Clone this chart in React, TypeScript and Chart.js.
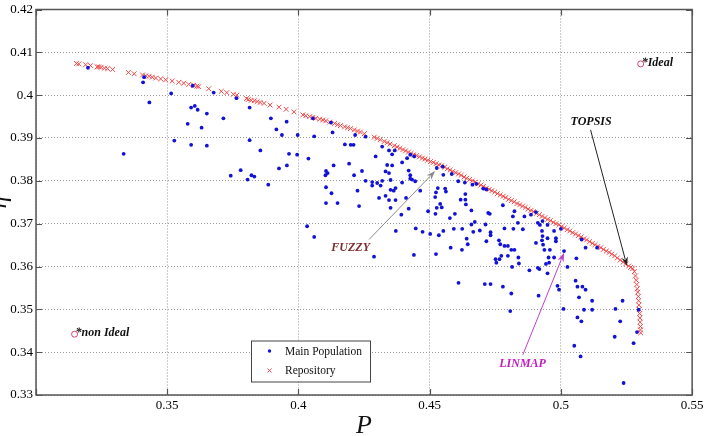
import React, { useEffect, useRef } from "react";
import { Chart, registerables } from "chart.js";

Chart.register(...registerables);

// Axis ticks
const X_TICKS = [0.3, 0.35, 0.4, 0.45, 0.5, 0.55];
const X_TICK_LABELS = ["", "0.35", "0.4", "0.45", "0.5", "0.55"];
const Y_TICKS = [0.33, 0.34, 0.35, 0.36, 0.37, 0.38, 0.39, 0.4, 0.41, 0.42];
const Y_TICK_LABELS = ["0.33", "0.34", "0.35", "0.36", "0.37", "0.38", "0.39", "0.4", "0.41", "0.42"];

// Main population: [P, eta]
const mainPopulation: [number, number][] = [
  [0.3198, 0.4064], [0.3412, 0.4042], [0.3408, 0.403], [0.3432, 0.3983], [0.3515, 0.4004],
  [0.3597, 0.4022], [0.3677, 0.4006], [0.3764, 0.3993], [0.3591, 0.3971], [0.3605, 0.3975],
  [0.3616, 0.3966], [0.3651, 0.3957], [0.3714, 0.3946], [0.3578, 0.3933], [0.3631, 0.3924],
  [0.3527, 0.3894], [0.3591, 0.3884], [0.3651, 0.3882], [0.3334, 0.3863], [0.3742, 0.3812],
  [0.378, 0.3825], [0.3806, 0.3803], [0.3814, 0.3971], [0.3895, 0.3946], [0.3955, 0.3938],
  [0.3916, 0.392], [0.3937, 0.3907], [0.3814, 0.3895], [0.3997, 0.3907], [0.406, 0.3904],
  [0.413, 0.3913], [0.4055, 0.3946], [0.4177, 0.3885], [0.4199, 0.3884], [0.421, 0.3884],
  [0.4216, 0.3907], [0.4256, 0.3903], [0.3855, 0.3871], [0.4319, 0.388], [0.4345, 0.3871],
  [0.4367, 0.3871], [0.4124, 0.3936], [0.4294, 0.3857], [0.4357, 0.3862], [0.4134, 0.3836],
  [0.4193, 0.384], [0.4242, 0.3823], [0.4338, 0.3837], [0.4357, 0.3836], [0.4395, 0.3843],
  [0.4414, 0.3853], [0.4426, 0.3861], [0.4441, 0.3857], [0.4111, 0.3818], [0.4212, 0.3813],
  [0.4256, 0.38], [0.4281, 0.3797], [0.4281, 0.3789], [0.43, 0.3795], [0.4313, 0.3789],
  [0.4319, 0.38], [0.4351, 0.3802], [0.4332, 0.3822], [0.4345, 0.3818], [0.4426, 0.3813],
  [0.4426, 0.3805], [0.4433, 0.3803], [0.442, 0.3824], [0.4395, 0.3796], [0.4445, 0.3799],
  [0.4126, 0.3771], [0.4225, 0.3777], [0.4307, 0.376], [0.4332, 0.3765], [0.4351, 0.3779],
  [0.437, 0.3783], [0.4363, 0.3777], [0.4345, 0.3755], [0.437, 0.3755], [0.441, 0.376],
  [0.4464, 0.3777], [0.4149, 0.3748], [0.4231, 0.3741], [0.442, 0.3735], [0.4524, 0.3773],
  [0.4521, 0.3762], [0.4527, 0.3737], [0.4559, 0.3782], [0.4562, 0.3775], [0.454, 0.3746],
  [0.4546, 0.3738], [0.4527, 0.383], [0.4552, 0.3814], [0.4584, 0.3816], [0.4609, 0.3799],
  [0.4634, 0.3796], [0.4618, 0.3756], [0.3821, 0.3813], [0.3832, 0.381], [0.3885, 0.3791],
  [0.3926, 0.3829], [0.3956, 0.3836], [0.3964, 0.3863], [0.3995, 0.3861], [0.4038, 0.3852],
  [0.4033, 0.3694], [0.406, 0.3669], [0.4105, 0.3823], [0.4103, 0.3813], [0.4105, 0.3785],
  [0.4105, 0.3748], [0.4288, 0.3623], [0.4351, 0.3737], [0.4392, 0.3721], [0.4371, 0.3683],
  [0.4447, 0.3689], [0.4473, 0.3681], [0.444, 0.3627], [0.4494, 0.3729], [0.4502, 0.3676],
  [0.4522, 0.3723], [0.4531, 0.3783], [0.4524, 0.3629], [0.4552, 0.3683], [0.4535, 0.3673],
  [0.4577, 0.3713], [0.4596, 0.3723], [0.4592, 0.3688], [0.458, 0.3644], [0.4624, 0.3688],
  [0.4623, 0.3639], [0.4636, 0.3769], [0.4636, 0.3756], [0.4638, 0.3745], [0.4641, 0.3665],
  [0.4645, 0.3652], [0.4659, 0.3698], [0.4666, 0.3681], [0.4672, 0.3704], [0.4663, 0.3791],
  [0.461, 0.3562], [0.4678, 0.3793], [0.4704, 0.3782], [0.4716, 0.378], [0.4723, 0.3725],
  [0.4729, 0.3723], [0.4779, 0.3743], [0.4817, 0.3717], [0.4836, 0.3702], [0.4861, 0.3717],
  [0.4886, 0.3721], [0.4905, 0.3727], [0.4659, 0.3731], [0.4691, 0.3684], [0.4713, 0.3698],
  [0.4732, 0.368], [0.4732, 0.3673], [0.4716, 0.3659], [0.4764, 0.3661], [0.4769, 0.3652],
  [0.4785, 0.3648], [0.4798, 0.3648], [0.4785, 0.3689], [0.4819, 0.3688], [0.4855, 0.3687],
  [0.4811, 0.3639], [0.4823, 0.3639], [0.4912, 0.3702], [0.492, 0.3697], [0.4928, 0.3683],
  [0.493, 0.3671], [0.4928, 0.3661], [0.4949, 0.3666], [0.4937, 0.3639], [0.4974, 0.3683],
  [0.4958, 0.3639], [0.4981, 0.3666], [0.4981, 0.3659], [0.4905, 0.3655], [0.4773, 0.3625],
  [0.4798, 0.3625], [0.4751, 0.3617], [0.4766, 0.3617], [0.4754, 0.3609], [0.4838, 0.3621],
  [0.4974, 0.3621], [0.4955, 0.3609], [0.5012, 0.3636], [0.4912, 0.3597], [0.4918, 0.3594],
  [0.4823, 0.3729], [0.4949, 0.3697], [0.5, 0.3688], [0.4932, 0.3651], [0.4953, 0.3621],
  [0.4943, 0.3606], [0.4949, 0.3584], [0.5025, 0.3599], [0.5059, 0.3619], [0.5056, 0.3567],
  [0.5063, 0.3553], [0.5094, 0.3644], [0.5082, 0.3553], [0.4987, 0.3555], [0.4993, 0.3546],
  [0.4814, 0.3599], [0.484, 0.3607], [0.488, 0.3591], [0.471, 0.3559], [0.4732, 0.3559],
  [0.4779, 0.3553], [0.5094, 0.3546], [0.4915, 0.3532], [0.5069, 0.3528], [0.5119, 0.352],
  [0.5235, 0.352], [0.501, 0.3501], [0.5088, 0.3499], [0.5119, 0.3499], [0.5208, 0.3501],
  [0.5063, 0.3481], [0.5296, 0.3499], [0.493, 0.3706], [0.5138, 0.3644], [0.5079, 0.3663],
  [0.4811, 0.3537], [0.4807, 0.3496], [0.5078, 0.3472], [0.5051, 0.3415], [0.5075, 0.339],
  [0.5226, 0.3472], [0.5205, 0.3436], [0.5277, 0.3421], [0.529, 0.3447], [0.5239, 0.3328],
  [0.455, 0.3833],
];

// Pareto repository: [P, eta]
const repository: [number, number][] = [
  [0.3154, 0.4074], [0.3163, 0.4073], [0.3189, 0.4071], [0.3208, 0.4069], [0.3233, 0.4066],
  [0.3239, 0.4066], [0.3248, 0.4065], [0.3261, 0.4063], [0.3273, 0.4062], [0.3292, 0.406],
  [0.3352, 0.4053], [0.3374, 0.405], [0.3406, 0.4047], [0.3418, 0.4045], [0.3431, 0.4044],
  [0.3443, 0.4042], [0.3456, 0.404], [0.3475, 0.4038], [0.3494, 0.4036], [0.3519, 0.4033],
  [0.3544, 0.403], [0.3563, 0.4028], [0.3582, 0.4025], [0.3601, 0.4023], [0.3613, 0.4021],
  [0.362, 0.402], [0.3658, 0.4015], [0.3706, 0.4009], [0.3727, 0.4006], [0.3752, 0.4002],
  [0.3765, 0.4], [0.3802, 0.3992], [0.3809, 0.399], [0.382, 0.3988], [0.3832, 0.3987],
  [0.3843, 0.3985], [0.3854, 0.3983], [0.3869, 0.3981], [0.3892, 0.3977], [0.3926, 0.3972],
  [0.3953, 0.3967], [0.3983, 0.3961], [0.4017, 0.3954], [0.4028, 0.3952], [0.4043, 0.395],
  [0.4055, 0.3948], [0.4066, 0.3946], [0.4081, 0.3944], [0.4093, 0.3942], [0.4104, 0.394],
  [0.4119, 0.3937], [0.4138, 0.3934], [0.4149, 0.3931], [0.416, 0.3929], [0.4176, 0.3926],
  [0.4187, 0.3924], [0.4198, 0.3922], [0.4213, 0.3919], [0.4225, 0.3916], [0.4236, 0.3914],
  [0.4251, 0.391], [0.4289, 0.3902], [0.43, 0.3899], [0.4312, 0.3896], [0.4327, 0.3892],
  [0.4338, 0.3889], [0.4349, 0.3886], [0.4365, 0.3882], [0.4376, 0.3879], [0.4387, 0.3876],
  [0.4398, 0.3873], [0.4408, 0.387], [0.4419, 0.3867], [0.4429, 0.3864], [0.444, 0.3861],
  [0.445, 0.3859], [0.4461, 0.3856], [0.4472, 0.3853], [0.4482, 0.3851], [0.4493, 0.3848],
  [0.4503, 0.3845], [0.4514, 0.3843], [0.4524, 0.384], [0.4535, 0.3837], [0.4546, 0.3835],
  [0.4557, 0.3832], [0.4567, 0.3828], [0.4578, 0.3825], [0.4588, 0.3822], [0.4599, 0.3819],
  [0.461, 0.3816], [0.462, 0.3813], [0.4631, 0.3809], [0.4641, 0.3806], [0.4652, 0.3803],
  [0.4663, 0.38], [0.4673, 0.3797], [0.4684, 0.3793], [0.4695, 0.379], [0.4705, 0.3787],
  [0.4716, 0.3783], [0.4727, 0.378], [0.4737, 0.3777], [0.4748, 0.3774], [0.4758, 0.377],
  [0.4769, 0.3767], [0.478, 0.3764], [0.479, 0.3761], [0.4801, 0.3757], [0.4811, 0.3754],
  [0.4822, 0.3751], [0.4833, 0.3747], [0.4843, 0.3744], [0.4854, 0.3741], [0.4864, 0.3738],
  [0.4875, 0.3734], [0.4886, 0.3731], [0.4896, 0.3728], [0.4907, 0.3724], [0.4918, 0.3721],
  [0.4928, 0.3717], [0.4939, 0.3714], [0.495, 0.371], [0.496, 0.3707], [0.4971, 0.3703],
  [0.4981, 0.37], [0.4992, 0.3697], [0.5003, 0.3693], [0.5013, 0.369], [0.5024, 0.3686],
  [0.5034, 0.3683], [0.5045, 0.3679], [0.5056, 0.3676], [0.5066, 0.3672], [0.5077, 0.3669],
  [0.5088, 0.3665], [0.5098, 0.3662], [0.5109, 0.3658], [0.512, 0.3654], [0.513, 0.3651],
  [0.5141, 0.3647], [0.5152, 0.3644], [0.5162, 0.364], [0.5173, 0.3636], [0.5184, 0.3633],
  [0.5194, 0.3629], [0.5205, 0.3625], [0.5215, 0.362], [0.5226, 0.3615], [0.5237, 0.361],
  [0.5247, 0.3606], [0.5258, 0.3601], [0.5266, 0.3598], [0.5274, 0.3595], [0.528, 0.3588],
  [0.5284, 0.3578], [0.5287, 0.3568], [0.5289, 0.3558], [0.5291, 0.3548], [0.5293, 0.354],
  [0.5295, 0.353], [0.5296, 0.352], [0.5297, 0.351], [0.5299, 0.35], [0.53, 0.349],
  [0.5301, 0.348], [0.5302, 0.347], [0.5303, 0.346], [0.5303, 0.3452], [0.5304, 0.3445],
];

// Reference points
const idealPoint: [number, number] = [0.5304, 0.4073];
const nonIdealPoint: [number, number] = [0.3147, 0.3442];

// Decision-making labels with arrows (data coordinates)
const decisionLabels = [
  { text: "TOPSIS", color: "#111111", arrow: "#222222", at: [0.5115, 0.3938], tail: [0.5113, 0.3919], tip: [0.5252, 0.3601] },
  { text: "FUZZY", color: "#7a2e2e", arrow: "#8a8a8a", at: [0.4199, 0.3644], tail: [0.4269, 0.3663], tip: [0.4521, 0.3823] },
  { text: "LINMAP", color: "#c020c0", arrow: "#c040c8", at: [0.4854, 0.3373], tail: [0.4855, 0.3394], tip: [0.5012, 0.3632] },
];

const SERIF = "'Liberation Serif', 'Times New Roman', serif";
const FRAME = "#555555";
const BLUE = "#1212d6";
const RED = "#f04848";
const RING = "#e0406a";

function drawArrow(ctx: CanvasRenderingContext2D, x1: number, y1: number, x2: number, y2: number, color: string) {
  const ang = Math.atan2(y2 - y1, x2 - x1);
  const len = 9;
  const half = 3.2;
  ctx.save();
  ctx.strokeStyle = color;
  ctx.fillStyle = color;
  ctx.lineWidth = 1;
  ctx.beginPath();
  ctx.moveTo(x1, y1);
  ctx.lineTo(x2 - Math.cos(ang) * len * 0.8, y2 - Math.sin(ang) * len * 0.8);
  ctx.stroke();
  const bx = x2 - Math.cos(ang) * len;
  const by = y2 - Math.sin(ang) * len;
  ctx.beginPath();
  ctx.moveTo(x2, y2);
  ctx.lineTo(bx - Math.sin(ang) * half, by + Math.cos(ang) * half);
  ctx.lineTo(x2 - Math.cos(ang) * len * 0.7, y2 - Math.sin(ang) * len * 0.7);
  ctx.lineTo(bx + Math.sin(ang) * half, by - Math.cos(ang) * half);
  ctx.closePath();
  ctx.fill();
  ctx.restore();
}

const decorPlugin = {
  id: "decor",
  afterDraw(chart: any) {
    const { ctx, chartArea: a, scales } = chart;
    const xs = scales.x;
    const ys = scales.y;
    const px = (v: number) => xs.getPixelForValue(v);
    const py = (v: number) => ys.getPixelForValue(v);

    ctx.save();
    // axes box with inward ticks
    ctx.strokeStyle = FRAME;
    ctx.lineWidth = 1.5;
    ctx.strokeRect(a.left, a.top, a.right - a.left, a.bottom - a.top);
    ctx.lineWidth = 1.2;
    ctx.beginPath();
    X_TICKS.forEach((v) => {
      const x = Math.round(px(v)) + 0.5;
      ctx.moveTo(x, a.bottom);
      ctx.lineTo(x, a.bottom - 6);
      ctx.moveTo(x, a.top);
      ctx.lineTo(x, a.top + 6);
    });
    Y_TICKS.forEach((v) => {
      const y = Math.round(py(v)) + 0.5;
      ctx.moveTo(a.left, y);
      ctx.lineTo(a.left + 6, y);
      ctx.moveTo(a.right, y);
      ctx.lineTo(a.right - 6, y);
    });
    ctx.stroke();

    // ideal / non ideal labels
    ctx.font = `italic bold 12px ${SERIF}`;
    ctx.fillStyle = "#111";
    ctx.textAlign = "left";
    ctx.textBaseline = "middle";
    ctx.fillText("*Ideal", px(idealPoint[0]) + 1, py(idealPoint[1]) - 1);
    ctx.fillText("*non Ideal", px(nonIdealPoint[0]) + 1, py(nonIdealPoint[1]) - 1);

    // decision-making annotations
    decisionLabels.forEach((d) => {
      drawArrow(ctx, px(d.tail[0]), py(d.tail[1]), px(d.tip[0]), py(d.tip[1]), d.arrow);
      ctx.font = `italic bold 12px ${SERIF}`;
      ctx.fillStyle = d.color;
      ctx.textAlign = "center";
      ctx.textBaseline = "middle";
      ctx.fillText(d.text, px(d.at[0]), py(d.at[1]));
    });

    // legend box
    const bx = a.left + 215;
    const by = a.top + 331;
    const bw = 119;
    const bh = 41;
    ctx.fillStyle = "#ffffff";
    ctx.fillRect(bx, by, bw, bh);
    ctx.strokeStyle = "#444";
    ctx.lineWidth = 1;
    ctx.strokeRect(bx + 0.5, by + 0.5, bw, bh);
    ctx.fillStyle = BLUE;
    ctx.beginPath();
    ctx.arc(bx + 18.5, by + 10.5, 1.7, 0, Math.PI * 2);
    ctx.fill();
    ctx.strokeStyle = RED;
    ctx.beginPath();
    ctx.moveTo(bx + 16.5, by + 28);
    ctx.lineTo(bx + 20.5, by + 32);
    ctx.moveTo(bx + 20.5, by + 28);
    ctx.lineTo(bx + 16.5, by + 32);
    ctx.stroke();
    ctx.fillStyle = "#111";
    ctx.font = `11.5px ${SERIF}`;
    ctx.textAlign = "left";
    ctx.textBaseline = "middle";
    ctx.fillText("Main Population", bx + 34, by + 11);
    ctx.fillText("Repository", bx + 34, by + 30);
    ctx.restore();
  },
};

export default function App() {
  const canvasRef = useRef<HTMLCanvasElement | null>(null);

  useEffect(() => {
    document.body.style.margin = "0";
    const canvas = canvasRef.current;
    if (!canvas) return;
    const chart = new Chart(canvas, {
      type: "scatter",
      data: {
        datasets: [
          {
            label: "Main Population",
            data: mainPopulation.map(([x, y]) => ({ x, y })),
            pointStyle: "circle",
            pointRadius: 1.9,
            pointBackgroundColor: BLUE,
            pointBorderWidth: 0,
            order: 0,
          },
          {
            label: "Repository",
            data: repository.map(([x, y]) => ({ x, y })),
            pointStyle: "crossRot",
            pointRadius: 3.4,
            pointBorderColor: RED,
            pointBorderWidth: 1,
            order: 1,
          },
          {
            label: "Reference",
            data: [idealPoint, nonIdealPoint].map(([x, y]) => ({ x, y })),
            pointStyle: "circle",
            pointRadius: 3,
            pointBorderColor: RING,
            pointBackgroundColor: "rgba(0,0,0,0)",
            pointBorderWidth: 1,
            order: 2,
          },
        ],
      },
      options: {
        animation: false,
        responsive: false,
        devicePixelRatio: 1,
        layout: { padding: { top: 7, right: 11, left: 0, bottom: 0 } },
        plugins: { legend: { display: false }, tooltip: { enabled: false } },
        events: [],
        scales: {
          x: {
            type: "linear",
            min: 0.3,
            max: 0.55,
            afterBuildTicks: (axis: any) => {
              axis.ticks = X_TICKS.map((value) => ({ value }));
            },
            afterFit: (scale: any) => {
              scale.height = 41;
            },
            ticks: {
              callback: (_v: any, i: number) => X_TICK_LABELS[i],
              font: { family: SERIF, size: 13, lineHeight: 1 },
              color: "#000",
              padding: 4.5,
              maxRotation: 0,
            },
            grid: { color: "#9a9a9a", lineWidth: 1, drawTicks: false },
            border: { display: false, dash: [1, 2] },
            title: {
              display: true,
              text: "P",
              font: { family: SERIF, size: 26, style: "italic", lineHeight: "20px" },
              color: "#111",
              padding: 0,
            },
          },
          y: {
            type: "linear",
            min: 0.33,
            max: 0.42,
            afterBuildTicks: (axis: any) => {
              axis.ticks = Y_TICKS.map((value) => ({ value }));
            },
            afterFit: (scale: any) => {
              scale.width = 36;
            },
            ticks: {
              callback: (_v: any, i: number) => Y_TICK_LABELS[i],
              font: { family: SERIF, size: 13, lineHeight: 1 },
              color: "#000",
              padding: 3,
            },
            grid: { color: "#9a9a9a", lineWidth: 1, drawTicks: false },
            border: { display: false, dash: [1, 2] },
            title: {
              display: true,
              text: "η",
              font: { family: SERIF, size: 25, style: "italic", lineHeight: "2px" },
              color: "#111",
              padding: { top: -2, bottom: 0 },
            },
          },
        },
      },
      plugins: [decorPlugin],
    } as any);
    return () => chart.destroy();
  }, []);

  return (
    <div style={{ width: 708, height: 436 }}>
      <canvas ref={canvasRef} width={708} height={436} style={{ display: "block" }} />
    </div>
  );
}
